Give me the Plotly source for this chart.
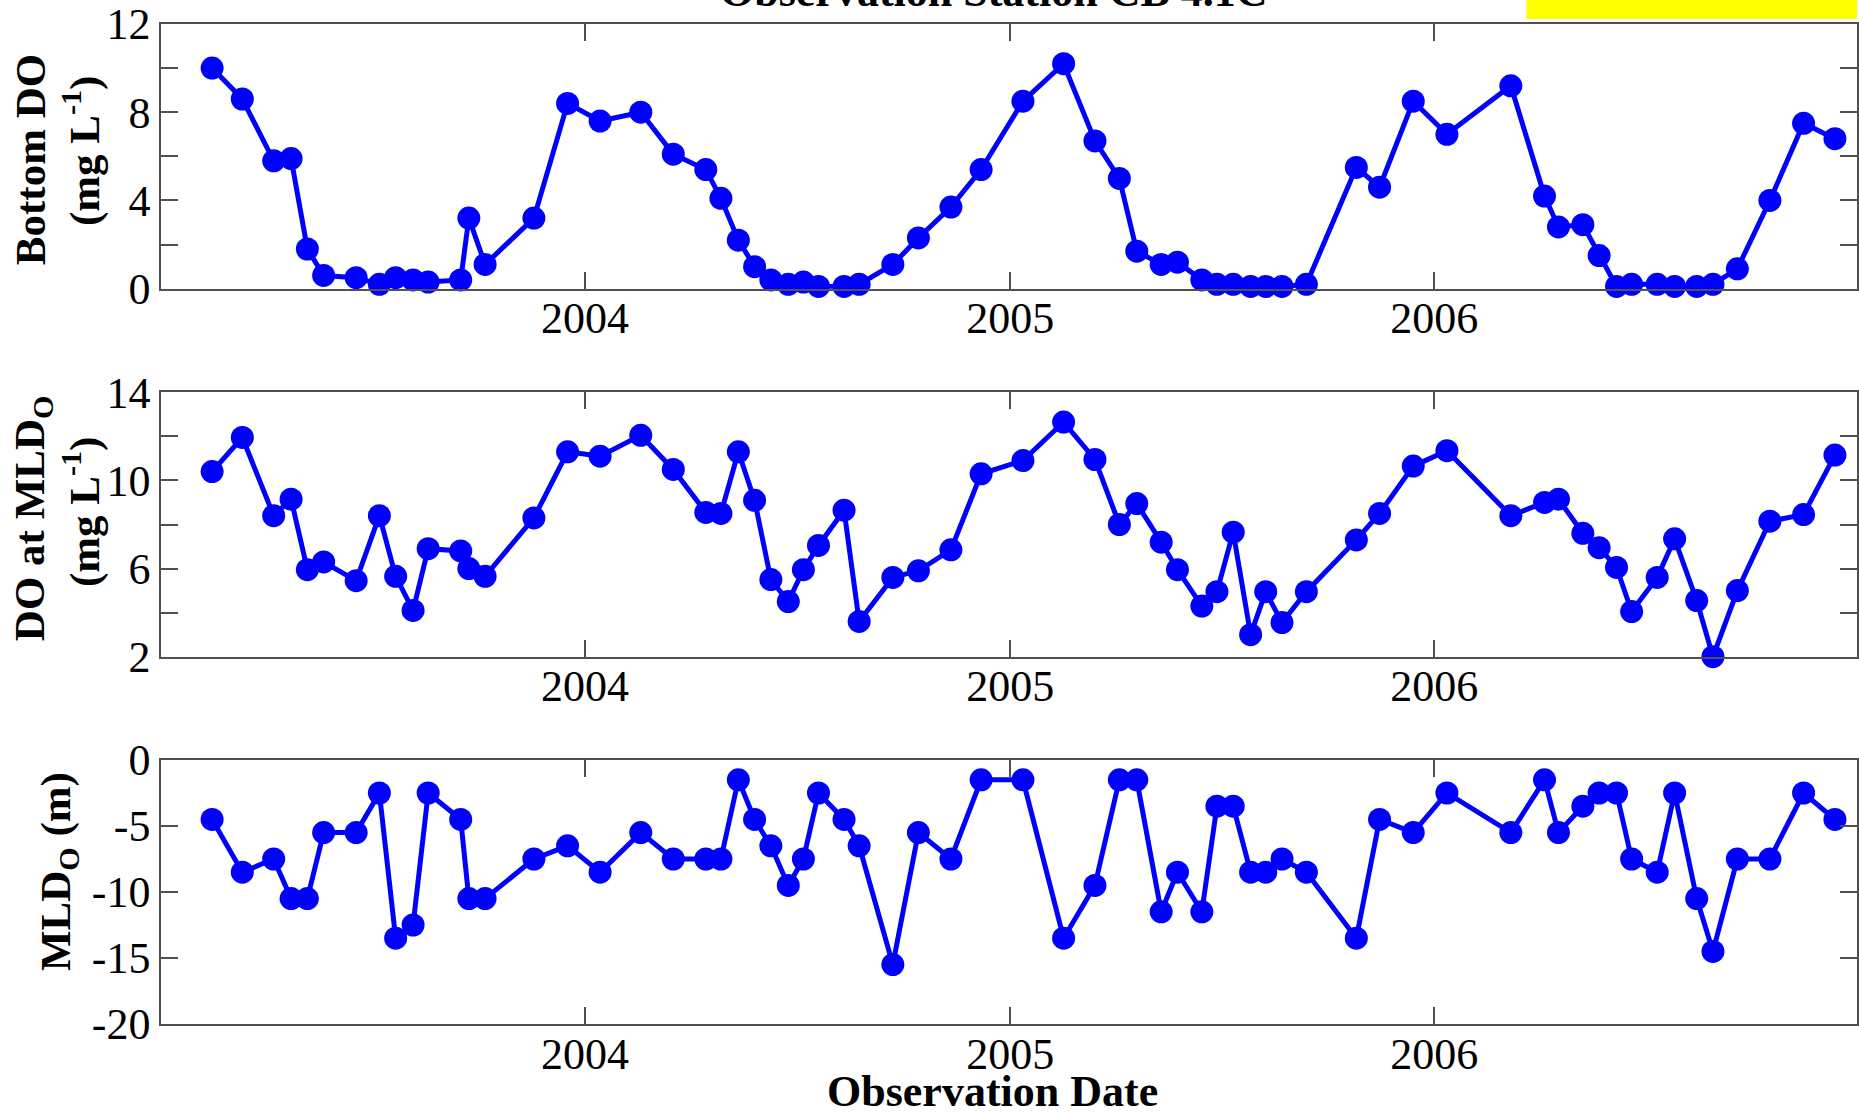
import plotly.graph_objects as go

# ---------------- data ----------------
dates = [
    "2003-02-14", "2003-03-12", "2003-04-08", "2003-04-23", "2003-05-07", "2003-05-21",
    "2003-06-18", "2003-07-08", "2003-07-22", "2003-08-06", "2003-08-19", "2003-09-16",
    "2003-09-23", "2003-10-07", "2003-11-18", "2003-12-17",
    "2004-01-14", "2004-02-18", "2004-03-17", "2004-04-14", "2004-04-27", "2004-05-12",
    "2004-05-26", "2004-06-09", "2004-06-24", "2004-07-07", "2004-07-20", "2004-08-11",
    "2004-08-24", "2004-09-22", "2004-10-14", "2004-11-11", "2004-12-07",
    "2005-01-12", "2005-02-16", "2005-03-15", "2005-04-05", "2005-04-20", "2005-05-11",
    "2005-05-25", "2005-06-15", "2005-06-28", "2005-07-12", "2005-07-27", "2005-08-09",
    "2005-08-23", "2005-09-13", "2005-10-26", "2005-11-15", "2005-12-14",
    "2006-01-12", "2006-03-08", "2006-04-06", "2006-04-18", "2006-05-09", "2006-05-23",
    "2006-06-07", "2006-06-20", "2006-07-12", "2006-07-27", "2006-08-15", "2006-08-29",
    "2006-09-19", "2006-10-17", "2006-11-15", "2006-12-12",
]

bottom_do = [
    10.0, 8.6, 5.8, 5.9, 1.8, 0.6, 0.5, 0.2, 0.5, 0.4,
    0.3, 0.4, 3.2, 1.1, 3.2, 8.4, 7.6, 8.0, 6.1, 5.4,
    4.1, 2.2, 1.0, 0.4, 0.2, 0.3, 0.1, 0.1, 0.2, 1.1,
    2.3, 3.7, 5.4, 8.5, 10.2, 6.7, 5.0, 1.7, 1.1, 1.2,
    0.4, 0.2, 0.2, 0.1, 0.1, 0.1, 0.2, 5.5, 4.6, 8.5,
    7.0, 9.2, 4.2, 2.8, 2.9, 1.5, 0.1, 0.2, 0.2, 0.1,
    0.1, 0.2, 0.9, 4.0, 7.5, 6.8,
]

do_at_mld = [
    10.4, 11.95, 8.4, 9.15, 5.95, 6.3, 5.45, 8.4, 5.65, 4.1,
    6.9, 6.8, 6.0, 5.65, 8.3, 11.3, 11.1, 12.05, 10.5, 8.55,
    8.5, 11.3, 9.1, 5.5, 4.5, 5.95, 7.05, 8.65, 3.6, 5.6,
    5.9, 6.85, 10.3, 10.9, 12.65, 10.95, 8.0, 8.95, 7.2, 5.95,
    4.3, 4.95, 7.65, 3.0, 4.95, 3.55, 4.95, 7.3, 8.5, 10.65,
    11.35, 8.4, 9.0, 9.15, 7.6, 6.95, 6.05, 4.05, 5.6, 7.35,
    4.55, 2.0, 5.0, 8.15, 8.45, 11.15,
]

mld = [
    -4.5, -8.5, -7.5, -10.5, -10.5, -5.5, -5.5, -2.5, -13.5, -12.5,
    -2.5, -4.5, -10.5, -10.5, -7.5, -6.5, -8.5, -5.5, -7.5, -7.5,
    -7.5, -1.5, -4.5, -6.5, -9.5, -7.5, -2.5, -4.5, -6.5, -15.5,
    -5.5, -7.5, -1.5, -1.5, -13.5, -9.5, -1.5, -1.5, -11.5, -8.5,
    -11.5, -3.5, -3.5, -8.5, -8.5, -7.5, -8.5, -13.5, -4.5, -5.5,
    -2.5, -5.5, -1.5, -5.5, -3.5, -2.5, -2.5, -7.5, -8.5, -2.5,
    -10.5, -14.5, -7.5, -7.5, -2.5, -4.5,
]

x_tickvals = ["2004-01-01", "2005-01-01", "2006-01-01"]
x_ticktext = ["2004", "2005", "2006"]

y1_tickvals = [0, 2, 4, 6, 8, 10, 12]
y1_ticktext = ["0", "", "4", "", "8", "", "12"]
y2_tickvals = [2, 4, 6, 8, 10, 12, 14]
y2_ticktext = ["2", "", "6", "", "10", "", "14"]
y3_tickvals = [-20, -15, -10, -5, 0]
y3_ticktext = ["-20", "-15", "-10", "-5", "0"]

title_text = "Observation Station CB 4.1C"
xlabel_text = "Observation Date"

# ---------------- layout geometry ----------------
W, H = 1859, 1113
ML, MR, MT, MB = 161, 0, 24, 89
PW = W - ML - MR
PH = H - MT - MB


def px_x(px):
    return (px - ML) / PW


def px_y(py):
    return (H - MB - py) / PH


BLUE = "#0000FF"
AXC = "#505050"
FONT = "Liberation Serif"

fig = go.Figure()

series = [bottom_do, do_at_mld, mld]
for i, vals in enumerate(series, start=1):
    suffix = "" if i == 1 else str(i)
    fig.add_trace(go.Scatter(
        x=dates, y=vals, mode="lines+markers",
        line=dict(color=BLUE, width=5),
        marker=dict(color=BLUE, size=23, line=dict(width=0)),
        cliponaxis=False, showlegend=False,
        xaxis="x" + suffix, yaxis="y" + suffix,
    ))

common_x = dict(
    type="date", range=["2003-01-01", "2006-12-31"],
    tickmode="array", tickvals=x_tickvals, ticktext=x_ticktext,
    ticks="inside", ticklen=17, tickwidth=1.5, tickcolor=AXC,
    showline=True, linecolor=AXC, linewidth=1.5, mirror="ticks",
    showgrid=False, zeroline=False, ticklabelstandoff=-10,
    tickfont=dict(family=FONT, size=44, color="black"),
    domain=[0, 1],
)
common_y = dict(
    tickmode="array",
    ticks="inside", ticklen=17, tickwidth=1.5, tickcolor=AXC,
    showline=True, linecolor=AXC, linewidth=1.5, mirror="ticks",
    showgrid=False, zeroline=False,
    tickfont=dict(family=FONT, size=44, color="black"),
)

domains = [
    [px_y(288.7), px_y(24)],
    [px_y(656.7), px_y(392.3)],
    [px_y(1024), px_y(760)],
]
yranges = [[0, 12], [2, 14], [-20, 0]]
ytv = [y1_tickvals, y2_tickvals, y3_tickvals]
ytt = [y1_ticktext, y2_ticktext, y3_ticktext]

layout = dict(
    width=W, height=H,
    margin=dict(l=ML, r=MR, t=MT, b=MB, pad=0),
    paper_bgcolor="white", plot_bgcolor="white",
    showlegend=False,
)
for i in range(3):
    suffix = "" if i == 0 else str(i + 1)
    layout["xaxis" + suffix] = dict(common_x, anchor="y" + suffix)
    layout["yaxis" + suffix] = dict(
        common_y, anchor="x" + suffix, domain=domains[i], range=yranges[i],
        tickvals=ytv[i], ticktext=ytt[i],
    )
fig.update_layout(**layout)

lab_font = dict(family=FONT, size=43, color="black")
annots = [
    ("<b>Bottom DO</b>", 30, 160, -90),
    ("<b>(mg L<sup>-1</sup>)</b>", 81, 151, -90),
    ("<b>DO at MLD<sub>O</sub></b>", 33, 518, -90),
    ("<b>(mg L<sup>-1</sup>)</b>", 81, 512, -90),
    ("<b>MLD<sub>O</sub> (m)</b>", 59, 872, -90),
]
for txt, ax_, ay_, ang in annots:
    fig.add_annotation(
        text=txt, x=px_x(ax_), y=px_y(ay_), xref="paper", yref="paper",
        xanchor="center", yanchor="middle", textangle=ang,
        showarrow=False, font=lab_font,
    )

fig.add_annotation(
    text="<b>" + xlabel_text + "</b>", x=px_x(993), y=px_y(1091),
    xref="paper", yref="paper", xanchor="center", yanchor="middle",
    showarrow=False, font=dict(family=FONT, size=44, color="black"),
)
fig.add_annotation(
    text="<b>" + title_text + "</b>", x=px_x(995), y=px_y(18),
    xref="paper", yref="paper", xanchor="center", yanchor="bottom",
    showarrow=False, font=dict(family=FONT, size=44, color="black"),
)

fig.add_shape(
    type="rect", xref="paper", yref="paper",
    x0=px_x(1528), x1=px_x(1859), y0=px_y(19), y1=px_y(-5),
    fillcolor="#FFFF00", line=dict(width=0), layer="above",
)

fig.write_html("out.html")
